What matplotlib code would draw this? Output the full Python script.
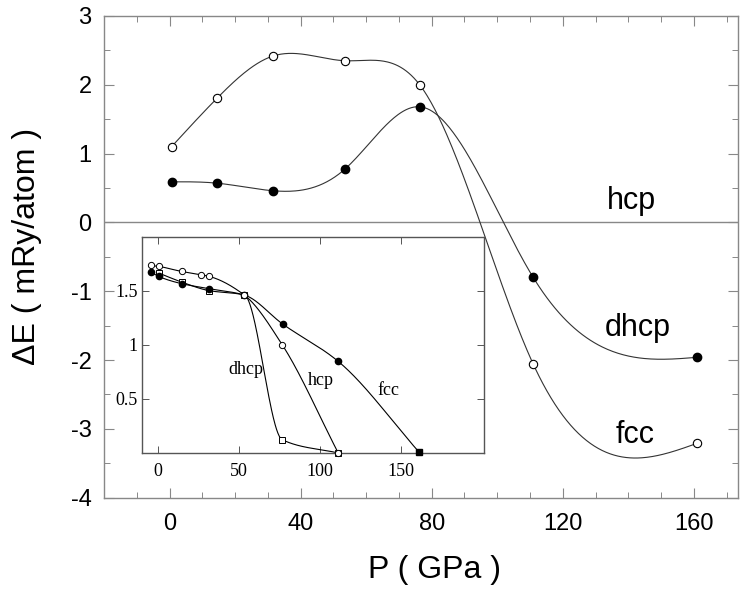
import numpy as np
import matplotlib
matplotlib.use('Agg')
import matplotlib.pyplot as plt
from matplotlib.ticker import MultipleLocator

plt.rcParams['axes.unicode_minus'] = False

# main panel: energy differences relative to hcp (mRy/atom)
P = [0.6, 14.6, 31.7, 53.4, 76.5, 111.0, 161.0]
dE_fcc = [1.10, 1.81, 2.42, 2.35, 1.99, -2.06, -3.21]
dE_dhcp = [0.59, 0.57, 0.46, 0.77, 1.68, -0.80, -1.96]

# inset panel
P_in_hcp = [-4.7, 0.2, 14.4, 26.2, 31.5, 53.1, 76.5, 111.1]
v_in_hcp = [1.737, 1.728, 1.681, 1.651, 1.635, 1.463, 1.003, 0.0]
P_in_fcc = [-4.7, 0.2, 14.4, 31.5, 53.1, 76.8, 111.1, 161.1]
v_in_fcc = [1.676, 1.635, 1.568, 1.521, 1.463, 1.194, 0.848, 0.006]
P_in_dhcp = [0.2, 14.4, 31.5, 53.1, 76.5, 111.1]
v_in_dhcp = [1.667, 1.583, 1.503, 1.463, 0.123, 0.0]


def natural_spline(x, y, num=400):
    x = np.asarray(x, float)
    y = np.asarray(y, float)
    n = len(x)
    h = np.diff(x)
    A = np.zeros((n, n))
    b = np.zeros(n)
    A[0, 0] = 1
    A[-1, -1] = 1
    for i in range(1, n - 1):
        A[i, i - 1] = h[i - 1]
        A[i, i] = 2 * (h[i - 1] + h[i])
        A[i, i + 1] = h[i]
        b[i] = 6 * ((y[i + 1] - y[i]) / h[i] - (y[i] - y[i - 1]) / h[i - 1])
    M = np.linalg.solve(A, b)
    xs = np.linspace(x[0], x[-1], num)
    k = np.clip(np.searchsorted(x, xs) - 1, 0, n - 2)
    t0 = x[k + 1] - xs
    t1 = xs - x[k]
    hk = h[k]
    ys = (M[k] * t0**3 + M[k + 1] * t1**3) / (6 * hk) \
        + (y[k] / hk - M[k] * hk / 6) * t0 + (y[k + 1] / hk - M[k + 1] * hk / 6) * t1
    return xs, ys


def pchip(x, y, num=400):
    x = np.asarray(x, float)
    y = np.asarray(y, float)
    h = np.diff(x)
    d = np.diff(y) / h
    m = np.zeros_like(y)
    m[0], m[-1] = d[0], d[-1]
    for i in range(1, len(x) - 1):
        if d[i - 1] * d[i] > 0:
            w1 = 2 * h[i] + h[i - 1]
            w2 = h[i] + 2 * h[i - 1]
            m[i] = (w1 + w2) / (w1 / d[i - 1] + w2 / d[i])
    xs = np.linspace(x[0], x[-1], num)
    k = np.clip(np.searchsorted(x, xs) - 1, 0, len(x) - 2)
    t = (xs - x[k]) / h[k]
    h00 = 2 * t**3 - 3 * t**2 + 1
    h10 = t**3 - 2 * t**2 + t
    h01 = -2 * t**3 + 3 * t**2
    h11 = t**3 - t**2
    ys = h00 * y[k] + h10 * h[k] * m[k] + h01 * y[k + 1] + h11 * h[k] * m[k + 1]
    return xs, ys


sans = ['Liberation Sans', 'DejaVu Sans']
serif = ['Liberation Serif', 'DejaVu Serif']
lc = '#333333'
sc = '#888888'

fig = plt.figure(figsize=(7.41, 5.92), dpi=100)
ax = fig.add_axes([0.1404, 0.1593, 0.8556, 0.8137])

ax.axhline(0, color=sc, lw=1.0, zorder=1)
xs, ys = natural_spline(P, dE_fcc)
ax.plot(xs, ys, color=lc, lw=0.8, zorder=2)
xs, ys = natural_spline(P, dE_dhcp)
ax.plot(xs, ys, color=lc, lw=0.8, zorder=2)
ax.plot(P, dE_fcc, 'o', ms=6, mfc='white', mec='black', mew=0.8, zorder=3)
ax.plot(P, dE_dhcp, 'o', ms=6, mfc='black', mec='black', zorder=3)

ax.text(141, 0.31, 'hcp', fontsize=22, family=sans, ha='center', va='center')
ax.text(143, -1.53, 'dhcp', fontsize=22, family=sans, ha='center', va='center')
ax.text(142, -3.09, 'fcc', fontsize=22, family=sans, ha='center', va='center')

ax.set_xlim(-20, 173.5)
ax.set_ylim(-4, 3)
ax.xaxis.set_major_locator(MultipleLocator(40))
ax.xaxis.set_minor_locator(MultipleLocator(10))
ax.yaxis.set_major_locator(MultipleLocator(1))
ax.yaxis.set_minor_locator(MultipleLocator(0.5))
ax.tick_params(which='both', direction='in', top=True, right=True, color=sc)
ax.tick_params(which='major', length=7, width=0.8, labelsize=17)
ax.tick_params(which='minor', length=4, width=0.7)
ax.tick_params(axis='x', pad=11)
ax.tick_params(axis='y', pad=9)
for lab in ax.get_xticklabels() + ax.get_yticklabels():
    lab.set_family(sans)
for s in ax.spines.values():
    s.set_color(sc)
    s.set_linewidth(1.0)
ax.set_xlabel('P ( GPa )', fontsize=23, family=sans)
ax.set_ylabel('\u0394E ( mRy/atom )', fontsize=23, family=sans)
ax.xaxis.set_label_coords(0.522, -0.119)
ax.yaxis.set_label_coords(-0.098, 0.522)

# inset
ai = fig.add_axes([0.1916, 0.2348, 0.4615, 0.3649])
ai.set_zorder(5)
ai.patch.set_facecolor('white')

xs, ys = pchip(P_in_hcp, v_in_hcp)
ai.plot(xs, ys, color='black', lw=0.8)
xs, ys = pchip(P_in_fcc, v_in_fcc)
ai.plot(xs, ys, color='black', lw=0.8)
xs, ys = pchip(P_in_dhcp, v_in_dhcp)
ai.plot(xs, ys, color='black', lw=0.8)
ai.plot(P_in_dhcp, v_in_dhcp, 's', ms=4, mfc='white', mec='black', mew=0.7, clip_on=False, zorder=3)
ai.plot(P_in_fcc[:-1], v_in_fcc[:-1], 'o', ms=4.5, mfc='black', mec='black', clip_on=False, zorder=4)
ai.plot(P_in_fcc[-1:], v_in_fcc[-1:], 's', ms=4.5, mfc='black', mec='black', clip_on=False, zorder=4)
ai.plot(P_in_hcp, v_in_hcp, 'o', ms=4.5, mfc='white', mec='black', mew=0.7, clip_on=False, zorder=4)

ai.text(54.1, 0.77, 'dhcp', fontsize=13, family=serif, ha='center', va='center')
ai.text(100.4, 0.67, 'hcp', fontsize=13, family=serif, ha='center', va='center')
ai.text(141.8, 0.58, 'fcc', fontsize=13, family=serif, ha='center', va='center')

ai.set_xlim(-10, 201)
ai.set_ylim(0, 2.0)
ai.set_xticks([0, 50, 100, 150])
ai.set_yticks([0.5, 1, 1.5])
ai.set_yticklabels(['0.5', '1', '1.5'])
ai.tick_params(direction='in', top=True, right=True, length=5, width=0.7,
               labelsize=13, color='#555555')
ai.tick_params(axis='x', pad=7)
ai.tick_params(axis='y', pad=3)
for lab in ai.get_xticklabels() + ai.get_yticklabels():
    lab.set_family(serif)
for s in ai.spines.values():
    s.set_color('#555555')
    s.set_linewidth(1.0)

fig.savefig('out.png', dpi=100)
